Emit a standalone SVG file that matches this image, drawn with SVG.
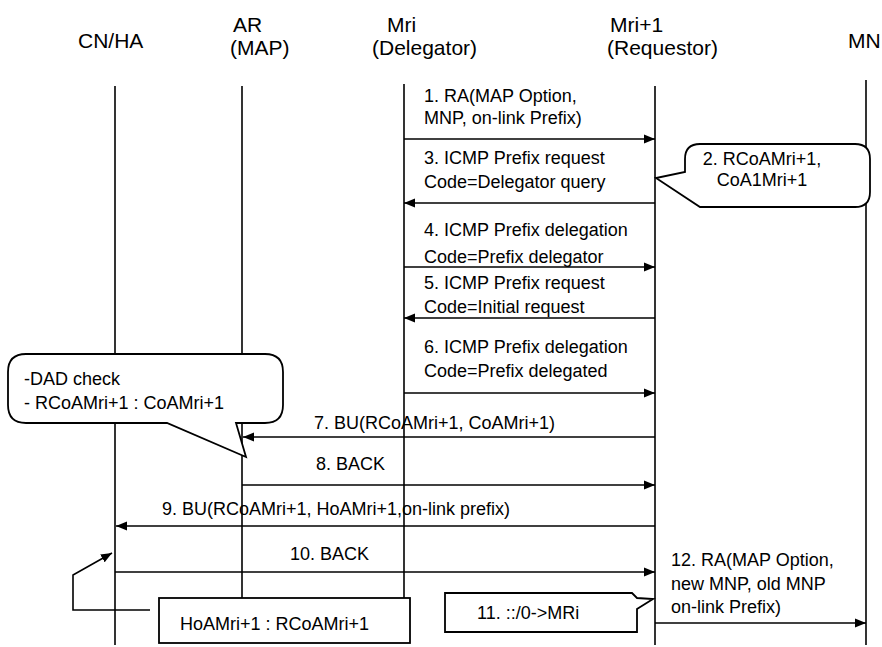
<svg xmlns="http://www.w3.org/2000/svg" width="882" height="647" viewBox="0 0 882 647">
<style>
.hd{font-family:"Liberation Sans",Arial,sans-serif;font-size:21px;fill:#000}
.t{font-family:"Liberation Sans",Arial,sans-serif;font-size:18px;fill:#000}
.ll{stroke:#000;stroke-width:1.6;fill:none}
.msg{stroke:#000;stroke-width:1.6;fill:none;marker-end:url(#ah)}
.box{stroke:#000;stroke-width:1.8;fill:#fff}
</style>
<defs>
<marker id="ah" markerUnits="userSpaceOnUse" markerWidth="12" markerHeight="10" refX="11" refY="5" orient="auto">
<path d="M0,0.5 L11,5 L0,9.5 Z" fill="#000"/>
</marker>
</defs>
<rect width="882" height="647" fill="#fff"/>
<g id="lifelines">
<line class="ll" x1="115" y1="86" x2="115" y2="645"/>
<line class="ll" x1="242" y1="86" x2="242" y2="598"/>
<line class="ll" x1="404" y1="84" x2="404" y2="598"/>
<line class="ll" x1="655" y1="86" x2="655" y2="645"/>
<line class="ll" x1="866" y1="80" x2="866" y2="645"/>
</g>
<g id="node-cnha"><text class="hd" x="78" y="48">CN/HA</text></g>
<g id="node-ar"><text class="hd" x="233" y="32">AR</text><text class="hd" x="230" y="55">(MAP)</text></g>
<g id="node-mri"><text class="hd" x="387" y="32">Mri</text><text class="hd" x="372" y="55">(Delegator)</text></g>
<g id="node-mri1"><text class="hd" x="610" y="32">Mri+1</text><text class="hd" x="607" y="55">(Requestor)</text></g>
<g id="node-mn"><text class="hd" x="848" y="48">MN</text></g>
<g id="note-2">
<path class="box" d="M700,144 H855 Q870,144 870,159 V192 Q870,207 855,207 H700 L656,178 L685,172 V159 Q685,144 700,144 Z"/>
<text class="t" x="762" y="165" text-anchor="middle">2. RCoAMri+1,</text>
<text class="t" x="762" y="186" text-anchor="middle">CoA1Mri+1</text>
</g>
<g id="note-dad">
<path class="box" d="M26,354 H265 Q283,354 283,372 V405 Q283,423 265,423 H236 L246,457 L167,423 H26 Q8,423 8,405 V372 Q8,354 26,354 Z"/>
<text class="t" x="24" y="385">-DAD check</text>
<text class="t" x="24" y="409">- RCoAMri+1 : CoAMri+1</text>
</g>
<g id="note-hoa">
<rect class="box" x="159" y="598" width="251" height="45"/>
<text class="t" x="180" y="630">HoAMri+1 : RCoAMri+1</text>
</g>
<g id="note-11">
<path class="box" d="M445,593 H632 L637,598 L653,599 L637,609 V632 H445 Z"/>
<text class="t" x="477" y="619">11. ::/0-&gt;MRi</text>
</g>
<g id="connectors">
<line class="msg" x1="404" y1="139" x2="655" y2="139"/>
<line class="msg" x1="655" y1="203" x2="404" y2="203"/>
<line class="msg" x1="404" y1="267" x2="655" y2="267"/>
<line class="msg" x1="655" y1="318" x2="404" y2="318"/>
<line class="msg" x1="404" y1="393" x2="655" y2="393"/>
<line class="msg" x1="655" y1="437" x2="243" y2="437"/>
<line class="msg" x1="242" y1="485" x2="655" y2="485"/>
<line class="msg" x1="655" y1="526" x2="116" y2="526"/>
<line class="msg" x1="115" y1="572" x2="655" y2="572"/>
<line class="msg" x1="655" y1="623" x2="866" y2="623"/>
<polyline class="msg" points="150,610 73,610 73,575 112,553"/>
</g>
<g id="labels">
<text class="t" x="424" y="102">1. RA(MAP Option,</text>
<text class="t" x="424" y="124">MNP, on-link Prefix)</text>
<text class="t" x="424" y="164">3. ICMP Prefix request</text>
<text class="t" x="424" y="188">Code=Delegator query</text>
<text class="t" x="424" y="236">4. ICMP Prefix delegation</text>
<text class="t" x="424" y="263">Code=Prefix delegator</text>
<text class="t" x="424" y="289">5. ICMP Prefix request</text>
<text class="t" x="424" y="313">Code=Initial request</text>
<text class="t" x="424" y="353">6. ICMP Prefix delegation</text>
<text class="t" x="424" y="377">Code=Prefix delegated</text>
<text class="t" x="314" y="429">7. BU(RCoAMri+1, CoAMri+1)</text>
<text class="t" x="316" y="470">8. BACK</text>
<text class="t" x="162" y="515">9. BU(RCoAMri+1, HoAMri+1,on-link prefix)</text>
<text class="t" x="290" y="560">10. BACK</text>
<text class="t" x="671" y="566">12. RA(MAP Option,</text>
<text class="t" x="671" y="590">new MNP, old MNP</text>
<text class="t" x="671" y="613">on-link Prefix)</text>
</g>
</svg>
